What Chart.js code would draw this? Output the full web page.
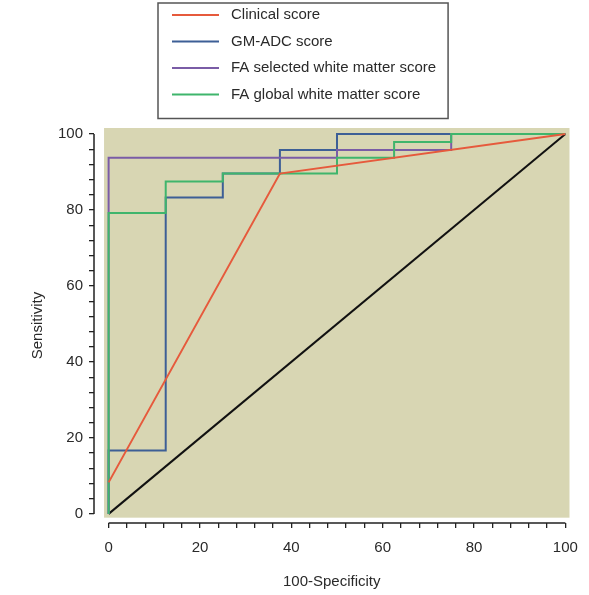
<!DOCTYPE html>
<html>
<head>
<meta charset="utf-8">
<script src="https://cdn.jsdelivr.net/npm/chart.js@4.4.1/dist/chart.umd.min.js"></script>
<style>
  html, body { margin: 0; padding: 0; background: #ffffff; }
  #wrap { width: 589px; height: 595px; position: relative; }
</style>
</head>
<body>
<div id="wrap"><canvas id="roc"></canvas></div>
<script>
// ROC curves: 100-Specificity (x) against Sensitivity (y), in percent
const seriesNames = ['Clinical score', 'GM-ADC score', 'FA selected white matter score', 'FA global white matter score'];
const seriesColors = ['#e65a3c', '#3d5f96', '#7a5ca6', '#3fb56c'];

const clinicalX = [0, 37.5, 100];
const clinicalY = [8.3, 89.6, 100];

const gmAdcX = [0, 0, 12.5, 12.5, 25, 25, 37.5, 37.5, 50, 50, 100];
const gmAdcY = [0, 16.7, 16.7, 83.3, 83.3, 89.6, 89.6, 95.8, 95.8, 100, 100];

const faSelectedX = [0, 0, 50, 50, 75, 75, 100];
const faSelectedY = [0, 93.75, 93.75, 95.8, 95.8, 100, 100];

const faGlobalX = [0, 0, 12.5, 12.5, 25, 25, 50, 50, 62.5, 62.5, 75, 75, 100];
const faGlobalY = [0, 79.2, 79.2, 87.5, 87.5, 89.6, 89.6, 93.75, 93.75, 97.9, 97.9, 100, 100];

// chance line
const chanceX = [0, 100];
const chanceY = [0, 100];

const axisTickLabels = [0, 20, 40, 60, 80, 100];
const minorStep = 4;

function toPoints(xs, ys) { return xs.map((x, i) => ({ x: x, y: ys[i] })); }

const seriesX = [clinicalX, gmAdcX, faSelectedX, faGlobalX];
const seriesY = [clinicalY, gmAdcY, faSelectedY, faGlobalY];
const drawOrder = [0, 3, 2, 1]; // lower number is painted on top

const datasets = seriesNames.map((name, i) => ({
  label: name,
  data: toPoints(seriesX[i], seriesY[i]),
  borderColor: seriesColors[i],
  borderWidth: 2,
  pointRadius: 0,
  tension: 0,
  fill: false,
  order: drawOrder[i]
}));
datasets.push({
  label: 'Reference',
  data: toPoints(chanceX, chanceY),
  borderColor: '#111111',
  borderWidth: 2,
  pointRadius: 0,
  tension: 0,
  fill: false,
  order: 9
});

const tickValues = [];
for (let v = axisTickLabels[0]; v <= axisTickLabels[axisTickLabels.length - 1]; v += minorStep) tickValues.push(v);

const fontFamily = '"Liberation Sans", Arial, Helvetica, sans-serif';

// shaded plotting panel behind the curves
const panelPlugin = {
  id: 'panel',
  beforeDatasetsDraw(chart) {
    const { ctx, chartArea, scales } = chart;
    const x0 = scales.x.getPixelForValue(-1);
    const y1 = scales.y.getPixelForValue(-1);
    ctx.save();
    ctx.fillStyle = '#d8d6b3';
    ctx.fillRect(x0, chartArea.top, chartArea.right - x0, y1 - chartArea.top);
    ctx.restore();
  }
};

// axis lines spanning 0..100 only
const axisLinePlugin = {
  id: 'axisLines',
  afterDraw(chart) {
    const { ctx, chartArea, scales } = chart;
    const lo = axisTickLabels[0], hi = axisTickLabels[axisTickLabels.length - 1];
    ctx.save();
    ctx.strokeStyle = '#222222';
    ctx.lineWidth = 1.5;
    ctx.beginPath();
    ctx.moveTo(chartArea.left, scales.y.getPixelForValue(lo));
    ctx.lineTo(chartArea.left, scales.y.getPixelForValue(hi));
    ctx.moveTo(scales.x.getPixelForValue(lo), chartArea.bottom);
    ctx.lineTo(scales.x.getPixelForValue(hi), chartArea.bottom);
    ctx.stroke();
    ctx.restore();
  }
};

// boxed legend with line samples
const legendBoxPlugin = {
  id: 'legendBox',
  afterDraw(chart) {
    const { ctx } = chart;
    const items = chart.data.datasets.filter(d => seriesNames.includes(d.label));
    const left = 158, top = 3, rowH = 26.5, firstRow = 12;
    ctx.save();
    ctx.font = '15px ' + fontFamily;
    let maxW = 0;
    items.forEach(d => { maxW = Math.max(maxW, ctx.measureText(d.label).width); });
    const textX = 231;
    const right = textX + maxW + 12;
    const bottom = top + firstRow + rowH * (items.length - 1) + 24;
    ctx.fillStyle = '#ffffff';
    ctx.fillRect(left, top, right - left, bottom - top);
    ctx.strokeStyle = '#555555';
    ctx.lineWidth = 1.5;
    ctx.strokeRect(left, top, right - left, bottom - top);
    items.forEach((d, i) => {
      const y = top + firstRow + rowH * i;
      ctx.strokeStyle = d.borderColor;
      ctx.lineWidth = 2;
      ctx.beginPath();
      ctx.moveTo(172, y);
      ctx.lineTo(219, y);
      ctx.stroke();
      ctx.fillStyle = '#2a2a2a';
      ctx.textBaseline = 'middle';
      ctx.textAlign = 'left';
      ctx.fillText(d.label, textX, y);
    });
    ctx.restore();
  }
};

const tickOptions = {
  autoSkip: false,
  maxRotation: 0,
  color: '#2a2a2a',
  font: { family: fontFamily, size: 15 },
  callback: (value) => axisTickLabels.includes(value) ? String(value) : ''
};

new Chart(document.getElementById('roc'), {
  type: 'line',
  data: { datasets: datasets },
  options: {
    responsive: true,
    maintainAspectRatio: false,
    animation: false,
    layout: { padding: { top: 128, right: 12, left: 0, bottom: 0 } },
    plugins: { legend: { display: false }, tooltip: { enabled: false } },
    scales: {
      x: {
        type: 'linear',
        min: -3.2,
        max: 100.9,
        border: { display: false },
        grid: { drawOnChartArea: false, drawTicks: true, tickLength: 5, color: '#222222', lineWidth: 1.3 },
        afterBuildTicks: (scale) => { scale.ticks = tickValues.map(v => ({ value: v })); },
        afterFit: (scale) => { scale.height = 72; },
        ticks: Object.assign({ padding: 11 }, tickOptions),
        title: { display: true, text: '100-Specificity', color: '#2a2a2a', font: { family: fontFamily, size: 15 }, padding: { top: 0, bottom: 4 } }
      },
      y: {
        type: 'linear',
        min: -2.4,
        max: 101.6,
        border: { display: false },
        grid: { drawOnChartArea: false, drawTicks: true, tickLength: 5, color: '#222222', lineWidth: 1.3 },
        afterBuildTicks: (scale) => { scale.ticks = tickValues.map(v => ({ value: v })); },
        afterFit: (scale) => { scale.width = 94; },
        ticks: Object.assign({ padding: 6 }, tickOptions),
        title: { display: true, text: 'Sensitivity', color: '#2a2a2a', font: { family: fontFamily, size: 15 }, padding: { top: 29, bottom: 0 } }
      }
    }
  },
  plugins: [panelPlugin, axisLinePlugin, legendBoxPlugin]
});
</script>
</body>
</html>
